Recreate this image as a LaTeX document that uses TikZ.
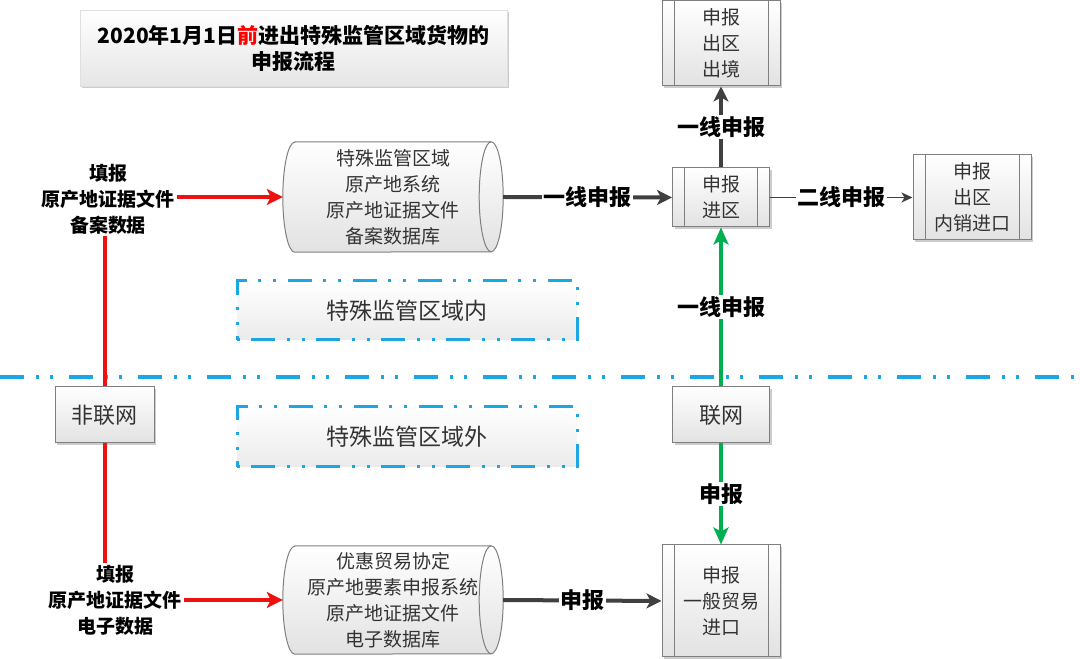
\documentclass[tikz,border=0pt]{standalone}
\usepackage{fontspec}
\setmainfont{Noto Sans CJK SC}
\usetikzlibrary{arrows.meta,shadows,calc}
\pgfdeclarelayer{background}
\pgfsetlayers{background,main}
\definecolor{boxborder}{HTML}{7F7F7F}
\definecolor{boxgrey}{HTML}{E2E2E2}
\definecolor{boxtext}{HTML}{333333}
\definecolor{darkline}{HTML}{404040}
\definecolor{redline}{HTML}{EE1111}
\definecolor{greenline}{HTML}{00B050}
\definecolor{dashblue}{HTML}{1AA7E4}
\tikzset{
  shadowed/.style={drop shadow={shadow xshift=2pt,shadow yshift=-2pt,fill=black,opacity=0.2}},
  boxbase/.style={draw=boxborder, line width=1pt, top color=white, bottom color=boxgrey,
    shadowed, text=boxtext, align=center, inner sep=0pt,
    font=\fontsize{19}{26}\selectfont},
  proc/.style={boxbase, path picture={
      \draw[boxborder,line width=1pt]
        ([xshift=12pt]path picture bounding box.north west) -- ([xshift=12pt]path picture bounding box.south west)
        ([xshift=-12pt]path picture bounding box.north east) -- ([xshift=-12pt]path picture bounding box.south east);}},
  plainbox/.style={boxbase, font=\fontsize{22}{26}\selectfont},
  cyltext/.style={align=center, inner sep=0pt, text=boxtext, font=\fontsize{19}{26}\selectfont},
  cylfill/.style={draw=boxborder, line width=1pt, top color=white, bottom color=boxgrey},
  titlebox/.style={draw=gray!25, top color=white, bottom color=gray!20, shadowed,
    align=center, inner sep=0pt, font=\bfseries\fontsize{21}{26}\selectfont},
  zonebox/.style={draw=dashblue, line width=3pt, top color=white, bottom color=gray!16,
    dash pattern=on 3pt off 11pt on 24pt off 12pt on 3pt off 12pt,
    align=center, inner sep=0pt, text=boxtext, font=\fontsize{23}{26}\selectfont},
  filltext/.style={align=center, inner sep=2pt, text=black, font=\bfseries\fontsize{19}{26}\selectfont},
  lbl/.style={fill=white, inner sep=1.5pt, text=black, font=\bfseries\fontsize{22}{24}\selectfont},
  dashline/.style={dashblue, line width=3.5pt, dash pattern=on 24pt off 12pt on 3pt off 11pt on 3pt off 16pt},
  redconn/.style={redline, line width=4pt},
  redarrow/.style={redline, line width=4pt, -{Stealth[length=16pt,width=16pt,inset=4pt]}},
  darkarrow/.style={darkline, line width=4pt, -{Stealth[length=15pt,width=15pt,inset=4pt]}},
  thinarrow/.style={darkline, line width=1.5pt, -{Stealth[length=11pt,width=10pt,inset=3pt]}},
  greenarrow/.style={greenline, line width=4pt, -{Stealth[length=17pt,width=15pt,inset=4pt]}},
}
\begin{document}
\begin{tikzpicture}[x=1pt,y=1pt]
\useasboundingbox (0,0) rectangle (1080,659);

% title
\node[titlebox, minimum width=427pt, minimum height=76pt] (title) at (293.5,611)
  {2020年1月1日\textcolor{red}{前}进出特殊监管区域货物的\\申报流程};

% boxes
\node[proc, minimum width=118pt, minimum height=85pt] (exit) at (721,615.5) {申报\\出区\\出境};
\node[proc, minimum width=97pt, minimum height=59pt] (enter) at (721,461.5) {申报\\进区};
\node[proc, minimum width=118pt, minimum height=85pt] (dom) at (972,461.5) {申报\\出区\\内销进口};
\node[proc, minimum width=118pt, minimum height=112pt] (trade) at (721,58) {申报\\一般贸易\\进口};
\node[plainbox, minimum width=99pt, minimum height=56pt] (nolink) at (104.5,244) {非联网};
\node[plainbox, minimum width=97pt, minimum height=56pt] (link) at (721,244) {联网};

% cylinders
\node[cyltext, minimum width=220pt, minimum height=110pt] (cylA) at (393,462)
  {特殊监管区域\\原产地系统\\原产地证据文件\\备案数据库};
\node[cyltext, minimum width=220pt, minimum height=108pt] (cylB) at (393,59)
  {优惠贸易协定\\原产地要素申报系统\\原产地证据文件\\电子数据库};
\begin{pgfonlayer}{background}
\path[cylfill] ($(cylA.north west)+(12pt,0)$) -- ($(cylA.north east)+(-12pt,0)$)
  arc[start angle=90,end angle=-90,x radius=12pt,y radius=55pt]
  -- ($(cylA.south west)+(12pt,0)$)
  arc[start angle=270,end angle=90,x radius=12pt,y radius=55pt] -- cycle;
\draw[boxborder,line width=1pt] ($(cylA.north east)+(-12pt,0)$)
  arc[start angle=90,end angle=270,x radius=12pt,y radius=55pt];
\path[cylfill] ($(cylB.north west)+(12pt,0)$) -- ($(cylB.north east)+(-12pt,0)$)
  arc[start angle=90,end angle=-90,x radius=12pt,y radius=54pt]
  -- ($(cylB.south west)+(12pt,0)$)
  arc[start angle=270,end angle=90,x radius=12pt,y radius=54pt] -- cycle;
\draw[boxborder,line width=1pt] ($(cylB.north east)+(-12pt,0)$)
  arc[start angle=90,end angle=270,x radius=12pt,y radius=54pt];
\end{pgfonlayer}

% zones
\node[zonebox, minimum width=340pt, minimum height=59pt] (zin) at (407,348.5) {特殊监管区域内};
\node[zonebox, minimum width=340pt, minimum height=60pt] (zout) at (407,222) {特殊监管区域外};

% boundary line
\coordinate (dl) at (0,282);
\coordinate (dr) at (1080,282);
\draw[dashline] (dl) -- (dr);

% fill-in texts
\node[filltext] (fa) at (108,460) {填报\\原产地证据文件\\备案数据};
\node[filltext] (fb) at (115,59) {填报\\原产地证据文件\\电子数据};

% connectors
\draw[redconn] (nolink.north) -- (nolink.north |- fa.south);
\draw[redconn] (nolink.south) -- (nolink.south |- fb.north);
\draw[redarrow] (fa.east |- cylA.west) -- (cylA.west);
\draw[redarrow] (fb.east |- cylB.west) -- (cylB.west);

\draw[darkarrow] (cylA.east) -- node[lbl]{一线申报} (enter.west);
\draw[darkarrow] (enter.north) -- node[lbl]{一线申报} (exit.south);
\draw[thinarrow] (enter.east) -- node[lbl]{二线申报} (dom.west);
\draw[greenarrow] (link.north) -- node[lbl]{一线申报} (enter.south);
\draw[greenarrow] (link.south) -- node[lbl]{申报} (trade.north);
\draw[darkarrow] (cylB.east) -- node[lbl]{申报} (trade.west);
\end{tikzpicture}
\end{document}
